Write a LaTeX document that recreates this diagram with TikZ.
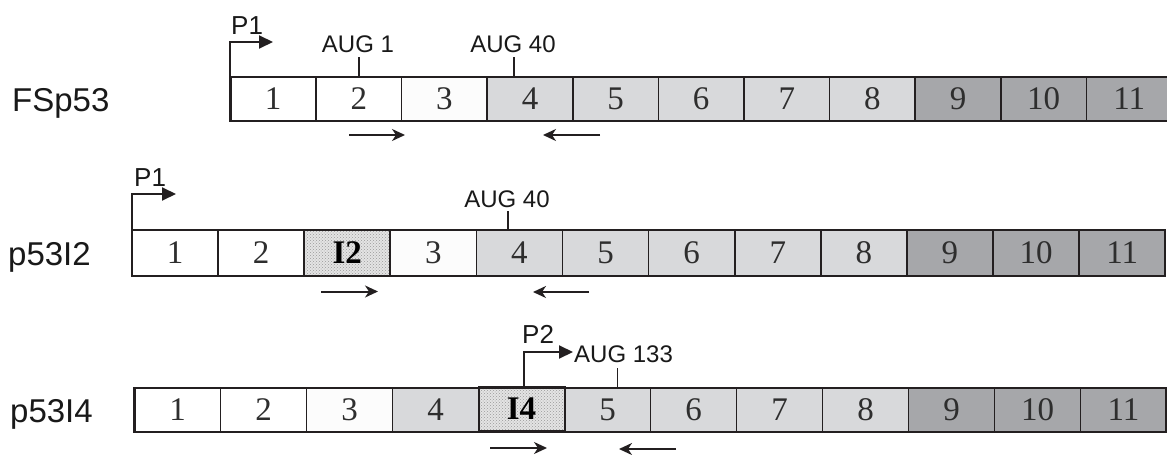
\documentclass[tikz,border=0pt]{standalone}
\usepackage{fontspec}
\setmainfont{Liberation Serif}
\newfontfamily\labfont{Liberation Sans}
\usetikzlibrary{arrows.meta,calc,patterns}
\definecolor{ln}{HTML}{231F20}
\definecolor{lg}{HTML}{D8D9DB}
\definecolor{dg}{HTML}{A6A7AA}
\definecolor{ow}{HTML}{FCFCFC}
\definecolor{tx}{HTML}{2E2E2E}
\definecolor{ig}{HTML}{E4E4E4}
\tikzset{
  exon/.style={draw=ln, line width=1.7pt, inner sep=0pt, outer sep=0pt, anchor=west,
    font=\fontsize{33}{33}\selectfont, text=tx},
  rowa/.style={exon, minimum width=85.6pt, minimum height=44pt},
  rowb/.style={exon, minimum width=86.1pt, minimum height=46pt},
  rowc/.style={exon, minimum width=86pt, minimum height=44pt},
  wb/.style={fill=white},
  ob/.style={fill=ow},
  lb/.style={fill=lg},
  db/.style={fill=dg},
  ib/.style={preaction={fill=ig}, pattern=crosshatch dots, pattern color=black!40,
    font=\fontsize{33}{33}\selectfont\bfseries, text=black},
  outline/.style={draw=ln, line width=2.2pt},
  genename/.style={font=\labfont\fontsize{33}{33}\selectfont, text=black!90, inner sep=0pt, anchor=base west},
  plab/.style={font=\labfont\fontsize{26}{26}\selectfont, text=black!90, inner sep=0pt, anchor=base west},
  auglab/.style={font=\labfont\fontsize{24}{24}\selectfont, text=black!90, inner sep=0pt, anchor=base},
  promoter/.style={draw=ln, line width=2pt, -{Triangle[length=14pt,width=13pt]}},
  tick/.style={draw=ln, line width=1.9pt},
  primer/.style={draw=ln, line width=2pt, -{Stealth[length=13pt,width=12pt,inset=4pt]}},
}
\begin{document}
\begin{tikzpicture}[x=1pt,y=-1pt]
\useasboundingbox (0,0) rectangle (1167,455);
\clip (0,0) rectangle (1167,455);
\fill[white] (0,0) rectangle (1167,455);

% ---------------- Row 1: FSp53
\node[genename] (n1) at (12,111) {FSp53};
\node[rowa,wb] (r1b1) at (230.4,99) {1};
\node[rowa,wb] (r1b2) at (r1b1.east) {2};
\node[rowa,ob] (r1b3) at (r1b2.east) {3};
\node[rowa,lb] (r1b4) at (r1b3.east) {4};
\node[rowa,lb] (r1b5) at (r1b4.east) {5};
\node[rowa,lb] (r1b6) at (r1b5.east) {6};
\node[rowa,lb] (r1b7) at (r1b6.east) {7};
\node[rowa,lb] (r1b8) at (r1b7.east) {8};
\node[rowa,db] (r1b9) at (r1b8.east) {9};
\node[rowa,db] (r1b10) at (r1b9.east) {10};
\node[rowa,db] (r1b11) at (r1b10.east) {11};
\path[outline] (r1b1.north west) rectangle (r1b11.south east);

\node[plab] (p1a) at (231,34) {P1};
\coordinate (p1aend) at (273,42);
\path[promoter] (r1b1.north west) |- (p1aend);

\node[auglab] (aug1) at (358,52) {AUG 1};
\coordinate (t1) at (r1b2.north);
\path[tick] (t1) -- ++(0,-20);
\node[auglab] (aug40a) at (513,52) {AUG 40};
\coordinate (t2) at ($(r1b4.north west)+(27,0)$);
\path[tick] (t2) -- ++(0,-20);

\coordinate (f1s) at (349,135); \coordinate (f1e) at (405,135);
\coordinate (b1s) at (600,135); \coordinate (b1e) at (543,135);
\path[primer] (f1s) -- (f1e);
\path[primer] (b1s) -- (b1e);

% ---------------- Row 2: p53I2
\node[genename] (n2) at (8,265) {p53I2};
\node[rowb,wb] (r2b1) at (132,253) {1};
\node[rowb,wb] (r2b2) at (r2b1.east) {2};
\node[rowb,ib] (r2b3) at (r2b2.east) {I2};
\node[rowb,ob] (r2b4) at (r2b3.east) {3};
\node[rowb,lb] (r2b5) at (r2b4.east) {4};
\node[rowb,lb] (r2b6) at (r2b5.east) {5};
\node[rowb,lb] (r2b7) at (r2b6.east) {6};
\node[rowb,lb] (r2b8) at (r2b7.east) {7};
\node[rowb,lb] (r2b9) at (r2b8.east) {8};
\node[rowb,db] (r2b10) at (r2b9.east) {9};
\node[rowb,db] (r2b11) at (r2b10.east) {10};
\node[rowb,db] (r2b12) at (r2b11.east) {11};
\path[outline] (r2b1.north west) rectangle (r2b12.south east);

\node[plab] (p1b) at (134,186) {P1};
\coordinate (p1bend) at (176,194);
\path[promoter] (r2b1.north west) |- (p1bend);

\node[auglab] (aug40b) at (507,207) {AUG 40};
\coordinate (t3) at ($(r2b5.north west)+(32,0)$);
\path[tick] (t3) -- ++(0,-19);

\coordinate (f2s) at (321,291.5); \coordinate (f2e) at (378,291.5);
\coordinate (b2s) at (589,292); \coordinate (b2e) at (533,292);
\path[primer] (f2s) -- (f2e);
\path[primer] (b2s) -- (b2e);

% ---------------- Row 3: p53I4
\node[genename] (n3) at (10,422) {p53I4};
\node[rowc,wb] (r3b1) at (134.5,410) {1};
\node[rowc,wb] (r3b2) at (r3b1.east) {2};
\node[rowc,ob] (r3b3) at (r3b2.east) {3};
\node[rowc,lb] (r3b4) at (r3b3.east) {4};
\node[rowc,ib] (r3b5) at ($(r3b4.east)+(0,-1.5)$) {I4};
\node[rowc,lb] (r3b6) at (r3b4.east -| r3b5.east) {5};
\node[rowc,lb] (r3b7) at (r3b6.east) {6};
\node[rowc,lb] (r3b8) at (r3b7.east) {7};
\node[rowc,lb] (r3b9) at (r3b8.east) {8};
\node[rowc,db] (r3b10) at (r3b9.east) {9};
\node[rowc,db] (r3b11) at (r3b10.east) {10};
\node[rowc,db] (r3b12) at (r3b11.east) {11};
\path[outline] (r3b1.north west) rectangle (r3b12.south east);
\path[draw=ln, line width=2pt] (r3b5.north west) rectangle (r3b5.south east);

\node[plab] (p2) at (522,343) {P2};
\coordinate (p2end) at (573,352);
\coordinate (p2start) at ($(r3b5.north)+(2.5,0)$);
\path[promoter] (p2start) |- (p2end);

\node[auglab, anchor=base west] (aug133) at (574,362.5) {AUG 133};
\coordinate (t4) at ($(r3b6.north west)+(53,0)$);
\path[tick] (t4) -- ++(0,-20);

\coordinate (f3s) at (490,448); \coordinate (f3e) at (547,448);
\coordinate (b3s) at (676,449); \coordinate (b3e) at (619,449);
\path[primer] (f3s) -- (f3e);
\path[primer] (b3s) -- (b3e);
\end{tikzpicture}
\end{document}
